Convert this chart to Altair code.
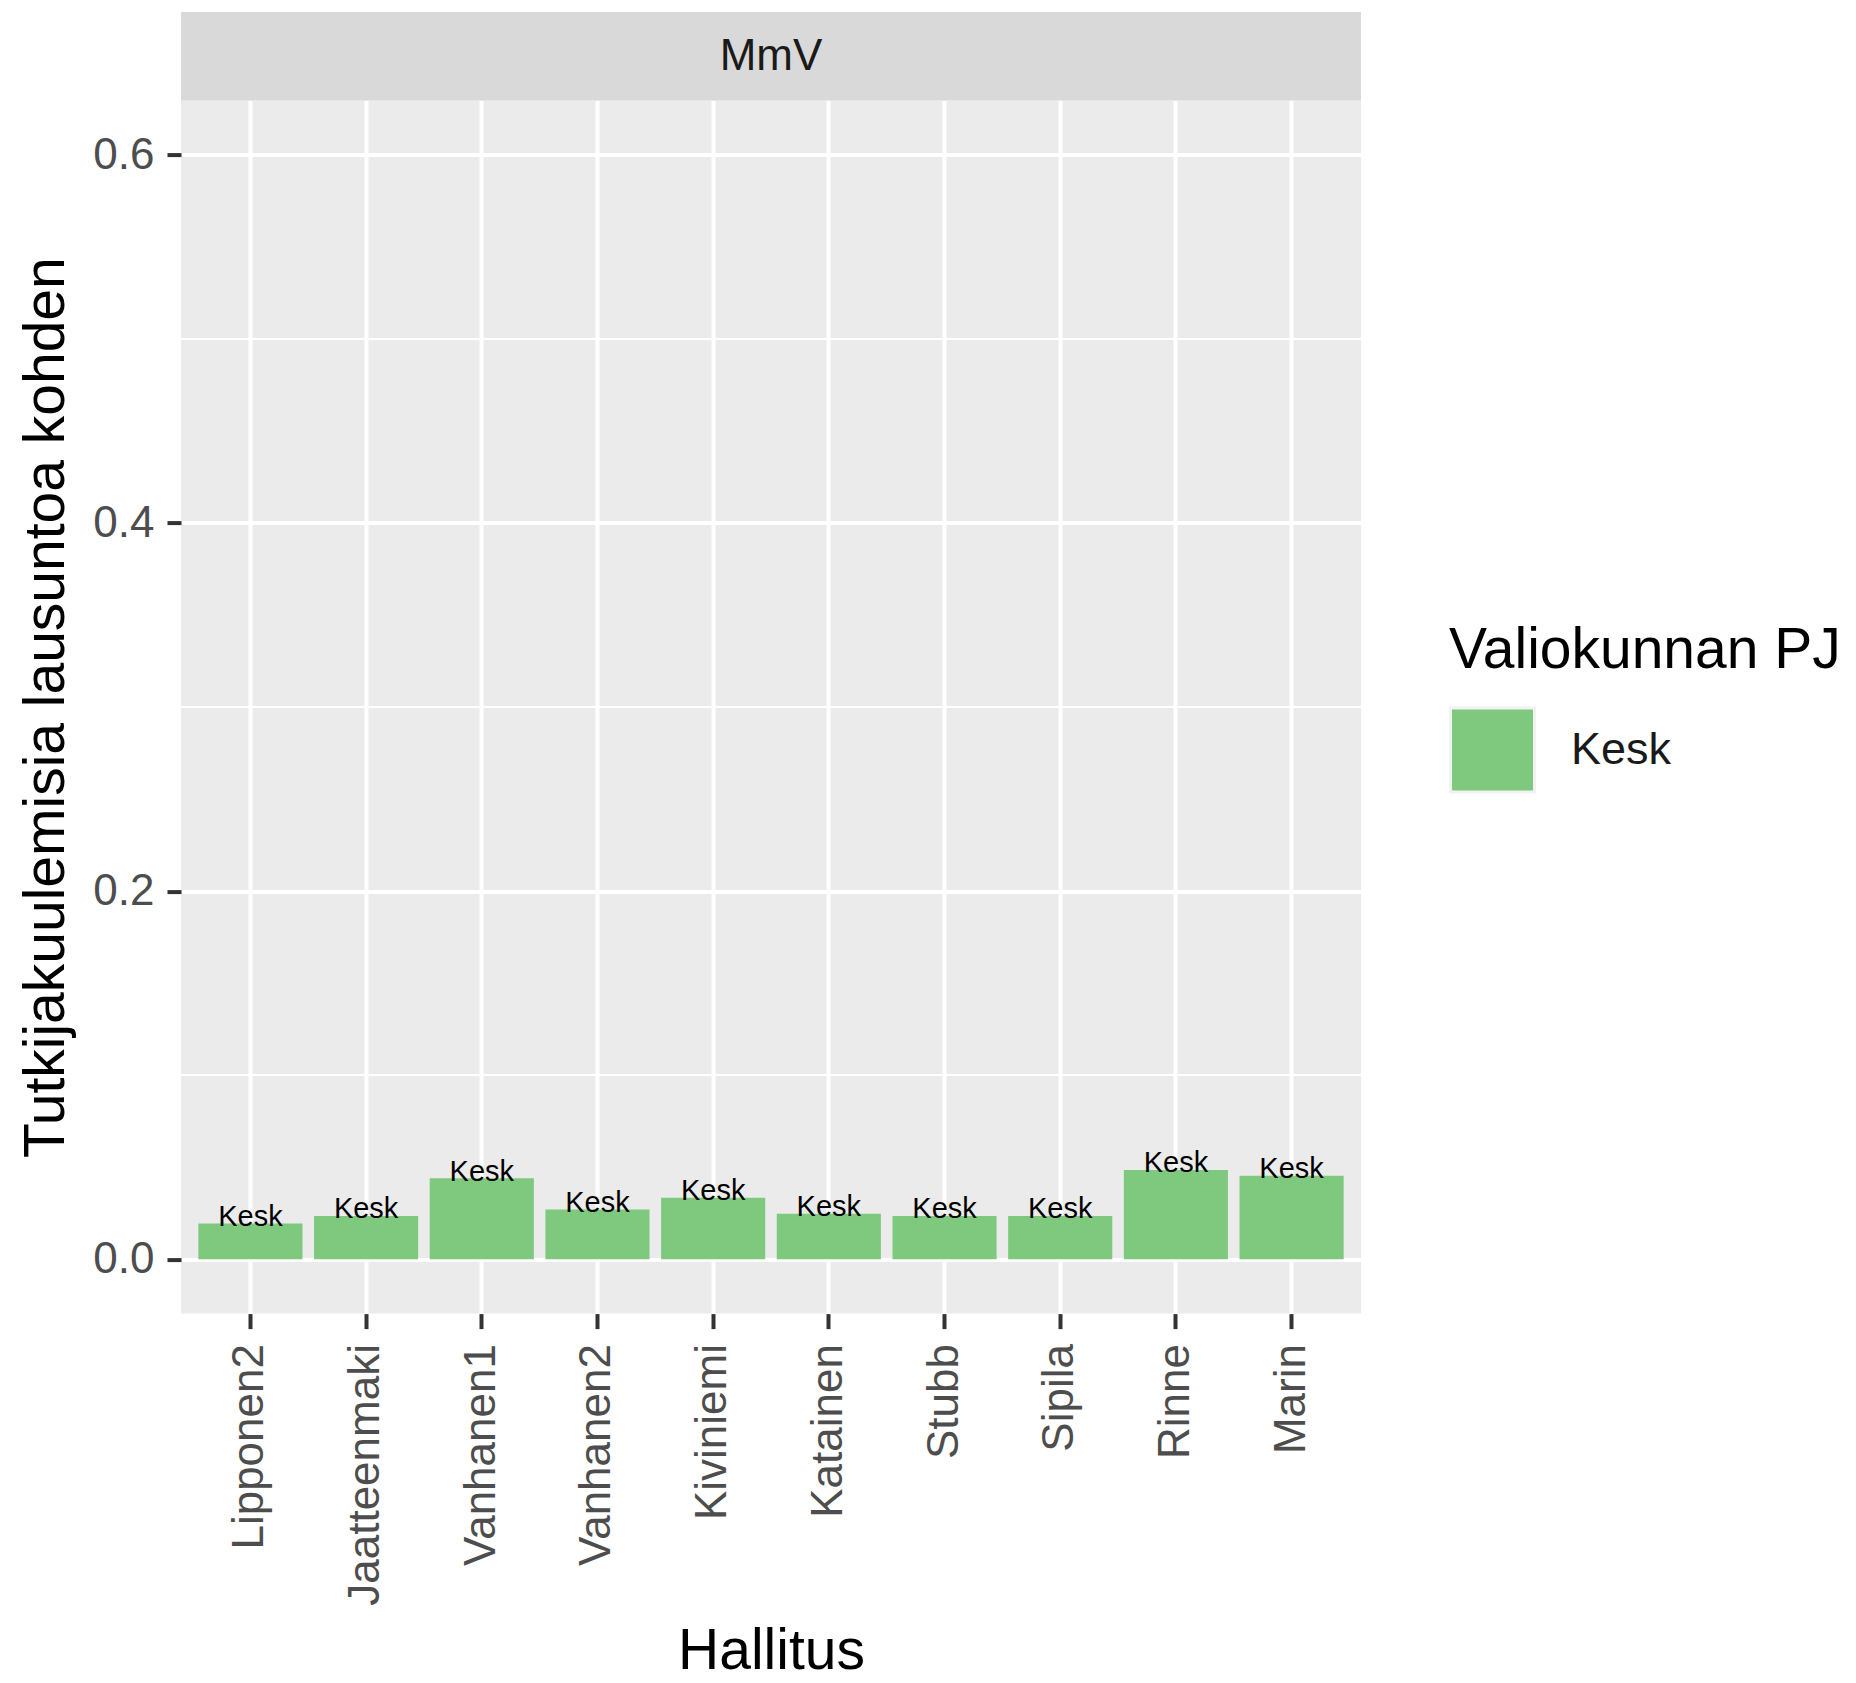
import altair as alt
import pandas as pd

hallitus = ["Lipponen2", "Jaatteenmaki", "Vanhanen1", "Vanhanen2", "Kiviniemi",
            "Katainen", "Stubb", "Sipila", "Rinne", "Marin"]
arvot = [0.0194, 0.0235, 0.0440, 0.0270, 0.0333, 0.0246, 0.0235, 0.0235, 0.0485, 0.0453]
pj = ["Kesk"] * 10
strip_labels = ["MmV"]
y_ticks = [0.0, 0.2, 0.4, 0.6]
y_minor = [0.1, 0.3, 0.5]

FONT = "Liberation Sans"
W, H = 1180, 1213

df = pd.DataFrame({"Hallitus": hallitus, "arvo": arvot, "pj": pj})
df_minor = pd.DataFrame({"v": y_minor})
df_strip = pd.DataFrame({"s": strip_labels})

yscale = alt.Scale(domain=[-0.0296, 0.6296], nice=False, zero=False)
xscale = alt.Scale(paddingInner=0.1, paddingOuter=0.15)

x_enc = alt.X(
    "Hallitus:N", sort=hallitus, scale=xscale, title="Hallitus",
    axis=alt.Axis(
        bandPosition=0.5, grid=True, gridColor="white", gridWidth=4,
        domain=False, tickColor="#333333", tickWidth=4, tickSize=15,
        labelAngle=270, labelAlign="right", labelBaseline="middle",
        labelFontSize=44, labelColor="#4d4d4d", labelPadding=15, labelFont=FONT,
        labelLimit=0, labelOverlap=False,
        titleFontSize=57, titleColor="black", titleFont=FONT, titleFontWeight="normal",
        titleX=590, titleY=355, titleBaseline="alphabetic", titleAlign="center",
    ),
)
y_enc = alt.Y(
    "arvo:Q", scale=yscale, title="Tutkijakuulemisia lausuntoa kohden",
    axis=alt.Axis(
        values=y_ticks, format=".1f", grid=True, gridColor="white", gridWidth=4,
        domain=False, tickColor="#333333", tickWidth=4, tickSize=14,
        labelFontSize=44, labelColor="#4d4d4d", labelPadding=13, labelFont=FONT,
        titleFontSize=57, titleColor="black", titleFont=FONT, titleFontWeight="normal",
        titleX=-118, titleY=606.5, titleAngle=270, titleBaseline="alphabetic",
        titleAlign="center", titleLimit=0,
    ),
)

minor = alt.Chart(df_minor).mark_rule(color="white", strokeWidth=2).encode(
    y=alt.Y("v:Q", scale=yscale)
)

bars = alt.Chart(df).mark_bar().encode(
    x=x_enc,
    y=y_enc,
    color=alt.Color(
        "pj:N",
        scale=alt.Scale(domain=["Kesk"], range=["#7FC97F"]),
        legend=alt.Legend(
            title="Valiokunnan PJ", orient="none", legendX=1268, legendY=522,
            titleFontSize=57, titleColor="black", titleFont=FONT,
            titleFontWeight="normal", titlePadding=27, titleLimit=0,
            symbolType="square", symbolSize=7056, symbolStrokeColor="#f2f2f2",
            symbolStrokeWidth=3, symbolOpacity=1,
            labelFontSize=45, labelColor="#1a1a1a", labelFont=FONT, labelOffset=35,
            labelLimit=0,
        ),
    ),
)

labels = alt.Chart(df).mark_text(
    baseline="alphabetic", dy=2.5, fontSize=29, color="black", font=FONT
).encode(
    x=alt.X("Hallitus:N", sort=hallitus, scale=xscale),
    y=alt.Y("arvo:Q", scale=yscale),
    text="pj:N",
)

strip_rect = alt.Chart(df_strip).mark_rect(color="#d9d9d9").encode(
    x=alt.value(0), x2=alt.value(W), y=alt.value(-88.6), y2=alt.value(0)
)
strip_text = alt.Chart(df_strip).mark_text(
    fontSize=44, color="#1a1a1a", font=FONT, baseline="middle", align="center"
).encode(x=alt.value(W / 2), y=alt.value(-44), text="s:N")

chart = alt.layer(minor, bars, labels, strip_rect, strip_text).properties(
    width=W, height=H,
    background="white",
    padding={"left": 173, "top": 92.6, "right": 487, "bottom": 356},
    autosize=alt.AutoSizeParams(type="none"),
).configure_view(fill="#ebebeb", stroke=None)

chart.save("out.html", embed_options={"renderer": "svg", "actions": False})
